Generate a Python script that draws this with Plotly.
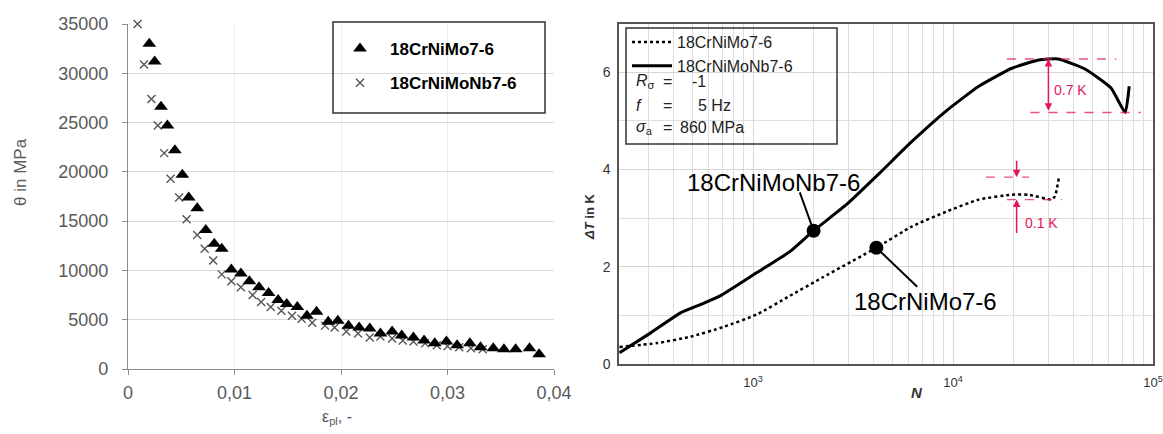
import plotly.graph_objects as go
import numpy as np

W, H = 1163, 434
def px(x): return x / W
def py(y): return 1 - y / H

FONT = "Liberation Sans, Arial, sans-serif"

# ---------------- left chart data ----------------
eps_mo = [0.0020, 0.0025, 0.0031, 0.0037, 0.0044, 0.0051, 0.0057, 0.0065, 0.0073, 0.0081,
          0.0088, 0.0097, 0.0106, 0.0114, 0.0123, 0.0132, 0.0141, 0.0149, 0.0159, 0.0168,
          0.0177, 0.0188, 0.0197, 0.0207, 0.0217, 0.0227, 0.0237, 0.0248, 0.0257, 0.0268,
          0.0278, 0.0288, 0.0299, 0.0309, 0.0321, 0.0331, 0.0343, 0.0353, 0.0364, 0.0377, 0.0386]
theta_mo = [33000, 31200, 26600, 24700, 22200, 19700, 17400, 16300, 14100, 12700,
            12200, 10100, 9700, 8900, 8300, 7700, 7000, 6600, 6300, 5400,
            5800, 4800, 4900, 4400, 4200, 4100, 3600, 3800, 3400, 3200,
            2900, 2600, 2800, 2400, 2600, 2200, 2100, 2000, 2000, 2100, 1500]

eps_nb = [0.0009, 0.0015, 0.0022, 0.0028, 0.0034, 0.0040, 0.0048, 0.0055, 0.0065, 0.0072,
          0.0080, 0.0088, 0.0097, 0.0106, 0.0117, 0.0125, 0.0134, 0.0144, 0.0154, 0.0163,
          0.0173, 0.0185, 0.0194, 0.0205, 0.0216, 0.0227, 0.0237, 0.0248, 0.0258, 0.0268,
          0.0279, 0.0290, 0.0300, 0.0311, 0.0322, 0.0333]
theta_nb = [35000, 30900, 27400, 24700, 21900, 19300, 17400, 15200, 13600, 12200,
            11000, 9600, 8900, 8300, 7500, 6800, 6300, 5900, 5400, 5100,
            4700, 4400, 4200, 3800, 3600, 3200, 3300, 3100, 2900, 2800,
            2600, 2400, 2300, 2200, 2100, 2000]

left_xticks = [0, 0.01, 0.02, 0.03, 0.04]
left_xticktext = ["0", "0,01", "0,02", "0,03", "0,04"]
left_yticks = [0, 5000, 10000, 15000, 20000, 25000, 30000, 35000]
left_yticktext = ["0", "5000", "10000", "15000", "20000", "25000", "30000", "35000"]

# ---------------- right chart data ----------------
N_nb = [215, 308, 434, 545, 685, 1047, 1528, 2009, 2938, 4285, 6252, 9226, 13460,
        19680, 26790, 33650, 45920, 61800, 72610, 76030]
dT_nb = [0.23, 0.64, 1.05, 1.22, 1.40, 1.88, 2.31, 2.74, 3.28, 3.92, 4.58, 5.20, 5.71,
         6.08, 6.25, 6.27, 6.06, 5.67, 5.17, 5.71]

N_mo = [215, 331, 486, 710, 1047, 1528, 2228, 4140, 6252, 9226, 13460, 19680, 23880,
        31120, 32360, 33900]
dT_mo = [0.35, 0.43, 0.56, 0.76, 1.02, 1.40, 1.78, 2.39, 2.83, 3.13, 3.38, 3.48, 3.48,
         3.38, 3.45, 3.84]

right_xticks = [1e3, 1e4, 1e5]
right_xticktext = ["10<sup>3</sup>", "10<sup>4</sup>", "10<sup>5</sup>"]
right_yticks = [0, 2, 4, 6]

fig = go.Figure()

# left chart
fig.add_trace(go.Scatter(x=eps_nb, y=theta_nb, mode="markers", name="<b>18CrNiMoNb7-6</b>",
                         marker=dict(symbol="x-thin-open", size=8, color="#555555",
                                     line=dict(width=1.4, color="#555555")),
                         cliponaxis=False,
                         xaxis="x", yaxis="y", legend="legend", legendrank=2, legendgroup="b"))
fig.add_trace(go.Scatter(x=eps_mo, y=theta_mo, mode="markers", name="<b>18CrNiMo7-6</b>",
                         marker=dict(symbol="triangle-up", size=12, color="black"),
                         cliponaxis=False,
                         xaxis="x", yaxis="y", legend="legend", legendrank=1, legendgroup="a"))

# right chart curves
fig.add_trace(go.Scatter(x=N_mo, y=dT_mo, mode="lines", name="18CrNiMo7-6",
                         line=dict(color="black", width=2.5, dash="dot", shape="spline", smoothing=0.5),
                         xaxis="x2", yaxis="y2", legend="legend2", legendrank=1))
fig.add_trace(go.Scatter(x=N_nb, y=dT_nb, mode="lines", name="18CrNiMoNb7-6",
                         line=dict(color="black", width=3, shape="spline", smoothing=0.45),
                         xaxis="x2", yaxis="y2", legend="legend2", legendrank=2))

# red reference lines (derived from the data)
RED = "#e5175a"
nb_max = max(dT_nb)
nb_min = min(dT_nb[15:])
mo_max = max(dT_mo)
mo_min = min(dT_mo[12:])
for xs, yv in [([18600, 65500], nb_max), ([24400, 87000], nb_min),
               ([14600, 24000], mo_max), ([18600, 35000], mo_min)]:
    fig.add_trace(go.Scatter(x=xs, y=[yv, yv], mode="lines", showlegend=False, hoverinfo="skip",
                             line=dict(color=RED, width=1.3, dash="dash"), opacity=0.75,
                             xaxis="x2", yaxis="y2"))

# leader lines + dots
dot_nb = (N_nb[7], dT_nb[7])
dot_mo = (N_mo[7], dT_mo[7])
fig.add_trace(go.Scatter(x=[dot_nb[0], 1714], y=[dot_nb[1], 3.53], mode="lines", showlegend=False,
                         line=dict(color="black", width=2), xaxis="x2", yaxis="y2", hoverinfo="skip"))
fig.add_trace(go.Scatter(x=[dot_mo[0], 6624], y=[dot_mo[1], 1.59], mode="lines", showlegend=False,
                         line=dict(color="black", width=2), xaxis="x2", yaxis="y2", hoverinfo="skip"))
fig.add_trace(go.Scatter(x=[dot_nb[0], dot_mo[0]], y=[dot_nb[1], dot_mo[1]], mode="markers",
                         showlegend=False, marker=dict(color="black", size=14),
                         xaxis="x2", yaxis="y2", hoverinfo="skip"))

minor_x = [m * 10 ** e for e in (2, 3, 4) for m in range(2, 10)]

def ann(text, x, y, size, color="#333333", xanchor="center", angle=0):
    return dict(text=text, x=px(x), y=py(y), xref="paper", yref="paper", showarrow=False,
                xanchor=xanchor, yanchor="middle", textangle=angle,
                font=dict(size=size, color=color))

annotations = [
    ann("θ in MPa", 20, 172, 17, "#595959", angle=-90),
    ann("ε<sub>pl</sub>, -", 337, 417, 16, "#595959"),
    ann("<b><i>ΔT</i> in K</b>", 589, 217, 13, "#333333", angle=-90),
    ann("<b><i>N</i></b>", 917, 392, 15, "#333333"),
    ann("18CrNiMoNb7-6", 773, 182, 24, "black"),
    ann("18CrNiMo7-6", 925, 301, 24, "black"),
    ann("0.7 K", 1052, 90, 14, RED, xanchor="left"),
    ann("0.1 K", 1023, 223, 14, RED, xanchor="left"),
    # arrows
    dict(x=np.log10(30000), y=nb_max, xref="x2", yref="y2", ax=0, ay=(nb_max - nb_min) * 48.5,
         text="", showarrow=True, arrowhead=2, arrowside="end+start", arrowsize=1, arrowwidth=1.5,
         arrowcolor=RED, startarrowhead=2, startarrowsize=1),
    dict(x=np.log10(20800), y=mo_max, xref="x2", yref="y2", ax=0, ay=-18,
         text="", showarrow=True, arrowhead=2, arrowsize=1, arrowwidth=1.5, arrowcolor=RED),
    dict(x=np.log10(20800), y=mo_min, xref="x2", yref="y2", ax=0, ay=35,
         text="", showarrow=True, arrowhead=2, arrowsize=1, arrowwidth=1.5, arrowcolor=RED),
]

# right legend extra rows
rows = [("<i>R</i><sub>σ</sub>", "=", "-1", 82, 690),
        ("<i>f</i>", "=", "5 Hz", 105, 696),
        ("<i>σ</i><sub>a</sub>", "=", "860 MPa", 127, 678)]
for lab, eq, val, yy, vx in rows:
    annotations.append(ann(lab, 634, yy, 16, "#222222", xanchor="left"))
    annotations.append(ann(eq, 667, yy, 16, "#222222"))
    annotations.append(ann(val, vx, yy, 16, "#222222", xanchor="left"))

shapes = [
    dict(type="rect", xref="paper", yref="paper", x0=px(333), x1=px(545), y0=py(113), y1=py(22),
         line=dict(color="#333333", width=1.5)),
    dict(type="rect", xref="paper", yref="paper", x0=px(626), x1=px(837), y0=py(144), y1=py(28),
         line=dict(color="#333333", width=1.5)),
]

fig.update_layout(
    width=W, height=H, autosize=False,
    margin=dict(l=0, r=0, t=0, b=0, autoexpand=False),
    paper_bgcolor="white", plot_bgcolor="white",
    font=dict(family=FONT, color="#333333"),
    showlegend=True,
    xaxis=dict(domain=[px(128), px(554)], range=[0, 0.04], anchor="y",
               tickvals=left_xticks, ticktext=left_xticktext,
               tickfont=dict(size=18, color="#595959"),
               showgrid=True, gridcolor="#ececec", zeroline=False,
               showline=True, linecolor="#8c8c8c", linewidth=1.2,
               ticks="outside", ticklen=5, tickcolor="#8c8c8c", ticklabelstandoff=2),
    yaxis=dict(domain=[py(369), py(24)], range=[0, 35000], anchor="x",
               tickvals=left_yticks, ticktext=left_yticktext,
               tickfont=dict(size=18, color="#595959"),
               showgrid=True, gridcolor="#d9d9d9", zeroline=False,
               showline=True, linecolor="#8c8c8c", linewidth=1.2,
               ticks="outside", ticklen=5, tickcolor="#8c8c8c", ticklabelstandoff=10),
    xaxis2=dict(domain=[px(619), px(1153)], type="log", range=[2.33, 5], anchor="y2",
                tickvals=right_xticks, ticktext=right_xticktext,
                tickfont=dict(size=13, color="#333333"),
                showgrid=True, gridcolor="#d6d6d6", zeroline=False,
                showline=True, mirror=True, linecolor="#555555", linewidth=1.5, ticks="",
                ticklabelstandoff=6,
                minor=dict(tickvals=minor_x, showgrid=True, gridcolor="#dedede", ticks="")),
    yaxis2=dict(domain=[py(364), py(23.5)], range=[0, 7], anchor="x2",
                tickvals=right_yticks, tickfont=dict(size=14, color="#333333"),
                showgrid=True, gridcolor="#d6d6d6", zeroline=False,
                showline=True, mirror=True, linecolor="#555555", linewidth=1.5, ticks="",
                ticklabelstandoff=4,
                minor=dict(tickvals=[1, 3, 5], showgrid=True, gridcolor="#dedede", ticks="")),
    legend=dict(x=px(330), y=py(31), xanchor="left", yanchor="top", bgcolor="rgba(0,0,0,0)",
                borderwidth=0, font=dict(size=17, color="black"), itemwidth=50,
                tracegroupgap=9, traceorder="grouped"),
    legend2=dict(x=px(627), y=py(25), xanchor="left", yanchor="top", bgcolor="rgba(0,0,0,0)",
                 borderwidth=0, font=dict(size=16, color="#222222"), itemwidth=40,
                 tracegroupgap=0),
    annotations=annotations, shapes=shapes,
)

fig.write_html("out.html")
